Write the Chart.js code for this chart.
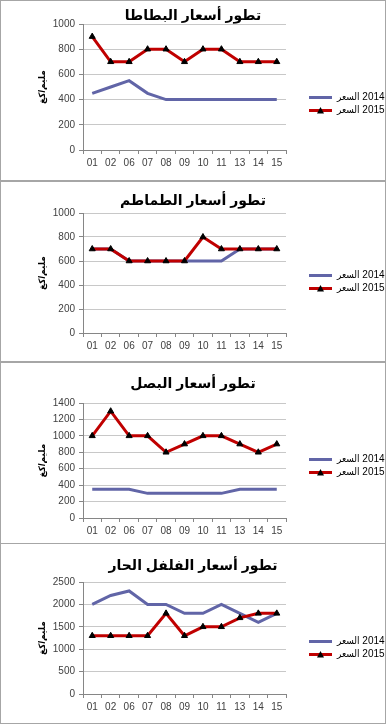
<!DOCTYPE html>
<html lang="ar" dir="ltr">
<head>
<meta charset="utf-8">
<script src="https://cdn.jsdelivr.net/npm/chart.js@4/dist/chart.umd.min.js"></script>
<style>
  body { margin: 0; background: #fff; }
  .panel { position: absolute; left: 0; width: 386px; box-sizing: border-box; border: 1px solid #a6a6a6; background: #fff; }
  .panel canvas { display: block; }
</style>
</head>
<body>
<div id="charts"></div>
<script>
"use strict";
const days = ['01', '02', '06', '07', '08', '09', '10', '11', '13', '14', '15'];
// LRM keeps the year to the right of the Arabic word, as in the original legend
const seriesNames = ['السعر \u200E2014', 'السعر \u200E2015'];
const titles = ['تطور أسعار البطاطا', 'تطور أسعار الطماطم', 'تطور أسعار البصل', 'تطور أسعار الفلفل الحار'];
const yLabel = 'مليم/كغ';

const potato2014 = [450, 500, 550, 450, 400, 400, 400, 400, 400, 400, 400];
const potato2015 = [900, 700, 700, 800, 800, 700, 800, 800, 700, 700, 700];
const tomato2014 = [700, 700, 600, 600, 600, 600, 600, 600, 700, 700, 700];
const tomato2015 = [700, 700, 600, 600, 600, 600, 800, 700, 700, 700, 700];
const onion2014 = [350, 350, 350, 300, 300, 300, 300, 300, 350, 350, 350];
const onion2015 = [1000, 1300, 1000, 1000, 800, 900, 1000, 1000, 900, 800, 900];
const pepper2014 = [2000, 2200, 2300, 2000, 2000, 1800, 1800, 2000, 1800, 1600, 1800];
const pepper2015 = [1300, 1300, 1300, 1300, 1800, 1300, 1500, 1500, 1700, 1800, 1800];

const yMax = [1000, 1000, 1400, 2500];
const yStep = [200, 200, 200, 500];

const BLUE = '#6165a7';
const RED = '#c00000';

// panel placement (page px) and inner layout (canvas px)
const panels = [
    {top: 0, h: 181, titleC: 15, areaTop: 23, areaBottom: 149, legendTitle: 27},
    {top: 181, h: 181, titleC: 19, areaTop: 31, areaBottom: 151, legendTitle: 21},
    {top: 362, h: 182, titleC: 21, areaTop: 40, areaBottom: 155, legendTitle: 26},
    {top: 543, h: 181, titleC: 22, areaTop: 38, areaBottom: 150, legendTitle: 29},
];
const seriesData = [[potato2014, potato2015], [tomato2014, tomato2015], [onion2014, onion2015], [pepper2014, pepper2015]];

Chart.defaults.font.family = "'Liberation Sans', 'DejaVu Sans', sans-serif";
Chart.defaults.color = '#404040';

function legendMark(color, withTriangle) {
    let c = document.createElement('canvas');
    c.width = 23; c.height = 9;
    let g = c.getContext('2d');
    g.strokeStyle = color;
    g.lineWidth = 3;
    g.beginPath(); g.moveTo(0, 4.5); g.lineTo(23, 4.5); g.stroke();
    if (withTriangle) {
        g.fillStyle = '#000';
        g.beginPath(); g.moveTo(11.5, 1); g.lineTo(15, 7.5); g.lineTo(8, 7.5); g.closePath(); g.fill();
    }
    return c;
}
const marks = [legendMark(BLUE, false), legendMark(RED, true)];

function makeChart(i) {
    let p = panels[i];
    let div = document.createElement('div');
    div.className = 'panel';
    div.style.top = p.top + 'px';
    div.style.height = p.h + 'px';
    let canvas = document.createElement('canvas');
    let cw = 384, ch = p.h - 2;
    canvas.width = cw; canvas.height = ch;
    canvas.style.width = cw + 'px'; canvas.style.height = ch + 'px';
    div.appendChild(canvas);
    document.getElementById('charts').appendChild(div);

    let [d14, d15] = seriesData[i];
    new Chart(canvas, {
        type: 'line',
        data: {
            labels: days,
            datasets: [
                {label: seriesNames[0], data: d14, borderColor: BLUE, backgroundColor: BLUE,
                 borderWidth: 3, pointRadius: 0, order: 2},
                {label: seriesNames[1], data: d15, borderColor: RED, backgroundColor: '#000',
                 borderWidth: 3, pointStyle: 'triangle', pointRadius: 3.5,
                 pointBorderColor: '#000', pointBorderWidth: 1, order: 1},
            ]
        },
        options: {
            responsive: false,
            animation: false,
            devicePixelRatio: 1,
            layout: {padding: 0},
            scales: {
                x: {
                    type: 'category',
                    offset: true,
                    grid: {display: true, drawOnChartArea: false, drawTicks: true, tickLength: 4, color: '#868686', offset: true},
                    border: {color: '#868686'},
                    ticks: {font: {size: 10}, padding: 3, autoSkip: false, maxRotation: 0},
                    afterFit: s => { s.height = ch - p.areaBottom; }
                },
                y: {
                    min: 0, max: yMax[i],
                    ticks: {stepSize: yStep[i], font: {size: 10}, padding: 4, callback: v => String(v)},
                    grid: {color: '#c8c8c8', tickColor: '#868686', tickLength: 4},
                    border: {color: '#868686'},
                    title: {display: true, text: yLabel, color: '#000',
                            font: {size: 9, weight: 'bold'}, padding: {top: 36, bottom: 0}},
                    afterFit: s => { s.width = 82; }
                },
                pad: {
                    type: 'linear', position: 'right', display: true,
                    grid: {display: false}, border: {display: false}, ticks: {display: false},
                    afterFit: s => { s.width = 20; }
                }
            },
            plugins: {
                title: {
                    display: true, text: titles[i], color: '#000',
                    font: {size: 14, weight: 'bold', lineHeight: 1},
                    padding: {top: p.titleC - 7, bottom: p.areaTop - p.titleC - 7}
                },
                legend: {
                    position: 'right',
                    maxWidth: 79,
                    title: {display: true, text: ' ', font: {size: 1, lineHeight: 1}, padding: {top: p.legendTitle - 1, bottom: 0}},
                    labels: {
                        usePointStyle: true,
                        pointStyleWidth: 23,
                        padding: 3,
                        color: '#000',
                        font: {size: 10, family: "'Liberation Sans', 'DejaVu Sans Condensed', 'DejaVu Sans', sans-serif"},
                        sort: (a, b) => a.datasetIndex - b.datasetIndex,
                        generateLabels: chart => {
                            let items = Chart.defaults.plugins.legend.labels.generateLabels(chart);
                            items.forEach(it => { it.pointStyle = marks[it.datasetIndex]; });
                            return items;
                        }
                    }
                },
                tooltip: {enabled: false}
            }
        }
    });
}

for (let i = 0; i < panels.length; i++) {
    makeChart(i);
}
</script>
</body>
</html>
